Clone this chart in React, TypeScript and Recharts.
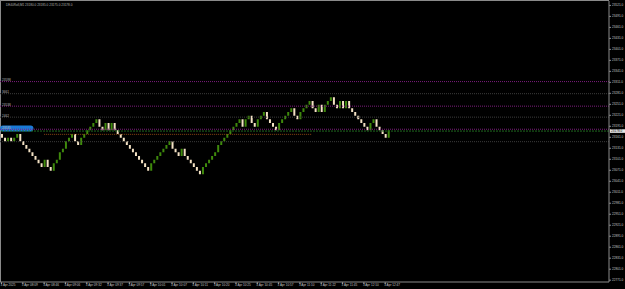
import React from 'react';
import { ComposedChart, Bar, XAxis, YAxis, ReferenceLine, ReferenceArea, Cell } from 'recharts';

// Renko bricks: each brick runs from the previous close to its own close
const openPrice = 23170;
const closes = [
  23160, 23150, 23160, 23150, 23160, 23170, 23150, 23140, 23130, 23120,
  23110, 23100, 23090, 23080, 23100, 23080, 23070, 23090, 23100, 23120,
  23130, 23150, 23160, 23170, 23150, 23140, 23160, 23170, 23180, 23190,
  23200, 23210, 23190, 23180, 23200, 23180, 23200, 23180, 23170, 23160,
  23150, 23140, 23130, 23120, 23110, 23100, 23090, 23080, 23070, 23090,
  23100, 23110, 23120, 23130, 23140, 23150, 23130, 23120, 23110, 23130,
  23110, 23100, 23090, 23080, 23070, 23060, 23080, 23090, 23100, 23110,
  23120, 23140, 23150, 23160, 23170, 23180, 23190, 23200, 23210, 23190,
  23210, 23220, 23200, 23190, 23210, 23220, 23230, 23210, 23200, 23190,
  23180, 23200, 23210, 23220, 23230, 23240, 23220, 23210, 23230, 23240,
  23250, 23260, 23240, 23230, 23250, 23230, 23250, 23260, 23270, 23250,
  23240, 23260, 23240, 23260, 23240, 23230, 23220, 23210, 23200, 23190,
  23180, 23200, 23210, 23190, 23180, 23170, 23160, 23180,
];
const totalSlots = 200;

const timeLabels = [
  '3 Apr 2025', '3 Apr 08:09', '3 Apr 08:46', '3 Apr 09:06', '3 Apr 09:32',
  '3 Apr 09:37', '3 Apr 09:57', '3 Apr 10:01', '3 Apr 10:07', '3 Apr 10:11',
  '3 Apr 10:20', '3 Apr 10:25', '3 Apr 10:45', '3 Apr 10:57', '3 Apr 11:10',
  '3 Apr 11:22', '3 Apr 11:45', '3 Apr 12:10', '3 Apr 12:47',
];
const labelEvery = 7;

const priceTicks = [
  23521, 23491, 23461, 23431, 23401, 23371, 23341, 23311, 23281, 23251,
  23221, 23191, 23161, 23131, 23101, 23071, 23041, 23011, 22981, 22951,
  22921, 22891, 22861, 22831, 22801, 22771,
];

const magentaLevels = [23313, 23246, 23183];
const magentaLabels = ['23598', '23538', '23535'];
const grayLevels = [23280, 23216, 23149];
const grayLabels = ['3661', '2462', ''];
const bidPrice = 23178;
const orderLevel = 23169;
const orderFrom = 14;
const orderTo = 102;
const markFrom = 0;
const markTo = 10;
const markLow = 23177;
const markHigh = 23193;
const headerText = 'DE40Roll,M1  23180.0 23185.0 23175.0 23178.0';

const data = Array.from({ length: totalSlots }, (_, i) => {
  if (i < closes.length) {
    const o = i === 0 ? openPrice : closes[i - 1];
    const c = closes[i];
    return { idx: i, body: [Math.min(o, c), Math.max(o, c)], up: c > o };
  }
  return { idx: i, body: null, up: false };
});
const timeTicks = timeLabels.map((_, k) => k * labelEvery);

const FONT = '"Liberation Sans", "DejaVu Sans", sans-serif';
const TXT = '#c4c4c4';

const TimeTick = (props: any) => {
  const { x, y, payload } = props;
  const label = timeLabels[Math.round(payload.value / labelEvery)];
  return (
    <text x={x - 1} y={y + 1.2} fontSize={3.1} fill={TXT} fontFamily={FONT} textAnchor="start" dominantBaseline="central">
      {label}
    </text>
  );
};

const PriceTick = (props: any) => {
  const { x, y, payload } = props;
  return (
    <text x={x + 1} y={y} fontSize={3.1} fill={TXT} fontFamily={FONT} textAnchor="start" dominantBaseline="central">
      {Number(payload.value).toFixed(1)}
    </text>
  );
};

const BidTag = (props: any) => {
  const { viewBox } = props;
  const x = viewBox.x + viewBox.width;
  const y = viewBox.y;
  return (
    <g>
      <rect x={x + 1} y={y - 1.8} width={15} height={3.6} fill="#e6e6e6" />
      <text x={x + 2} y={y} fontSize={3.1} fill="#000" fontFamily={FONT} textAnchor="start" dominantBaseline="central">
        {bidPrice.toFixed(1)}
      </text>
    </g>
  );
};

const LevelLabel = (text: string) => (props: any) => {
  const { viewBox } = props;
  if (!text) return null;
  return (
    <text x={viewBox.x + 2} y={viewBox.y - 1.6} fontSize={3.1} fill="#b8b8b8" fontFamily={FONT} textAnchor="start" dominantBaseline="central">
      {text}
    </text>
  );
};

export default function App() {
  return (
    <div style={{ position: 'fixed', left: 0, top: 0, width: 625, height: 289, background: '#000' }}>
      <div style={{ position: 'absolute', left: 0, top: 0, width: 608, height: 281, borderLeft: '1px solid #8a8a8a', borderTop: '1px solid #8a8a8a' }} />
      <ComposedChart
        width={625}
        height={289}
        data={data}
        margin={{ top: 1, right: 0, left: 0, bottom: 0 }}
        barCategoryGap={0}
        style={{ position: 'absolute', left: 0, top: 0 }}
      >
        <XAxis
          dataKey="idx"
          type="category"
          ticks={timeTicks}
          interval={0}
          height={7}
          tickSize={2}
          tickMargin={0}
          axisLine={{ stroke: '#8a8a8a' }}
          tickLine={{ stroke: '#8a8a8a' }}
          tick={<TimeTick />}
        />
        <YAxis
          orientation="right"
          width={16}
          domain={[22766, 23533]}
          allowDataOverflow
          ticks={priceTicks}
          interval={0}
          tickSize={2}
          tickMargin={0}
          axisLine={{ stroke: '#8a8a8a' }}
          tickLine={{ stroke: '#8a8a8a' }}
          tick={<PriceTick />}
        />
        {magentaLevels.map((p, k) => (
          <ReferenceLine key={'m' + k} y={p} stroke="#7d1d7d" strokeWidth={1} strokeDasharray="1 1" label={LevelLabel(magentaLabels[k])} />
        ))}
        {grayLevels.map((p, k) => (
          <ReferenceLine key={'g' + k} y={p} stroke="#3c3c3c" strokeWidth={1} strokeDasharray="1 1" label={LevelLabel(grayLabels[k])} />
        ))}
        <ReferenceLine
          segment={[{ x: orderFrom, y: orderLevel }, { x: orderTo, y: orderLevel }]}
          stroke="#8a4612"
          strokeWidth={1}
          strokeDasharray="1 1"
        />
        <ReferenceLine y={bidPrice} stroke="#1f6a1f" strokeWidth={1} strokeDasharray="2 1" label={BidTag} />
        <Bar dataKey="body" barSize={2} isAnimationActive={false}>
          {data.map((d, i) => (
            <Cell key={i} fill={d.up ? '#3f8a0c' : '#f4e2c4'} />
          ))}
        </Bar>
        <ReferenceArea x1={markFrom} x2={markTo} y1={markLow} y2={markHigh} fill="#1b7ad6" fillOpacity={1} stroke="none" radius={3} />
      </ComposedChart>
      <svg width={625} height={12} style={{ position: 'absolute', left: 0, top: 0 }}>
        <text x={6} y={4.5} fontSize={3.1} fill="#b0b0b0" fontFamily={FONT} dominantBaseline="central">
          {headerText}
        </text>
      </svg>
    </div>
  );
}
